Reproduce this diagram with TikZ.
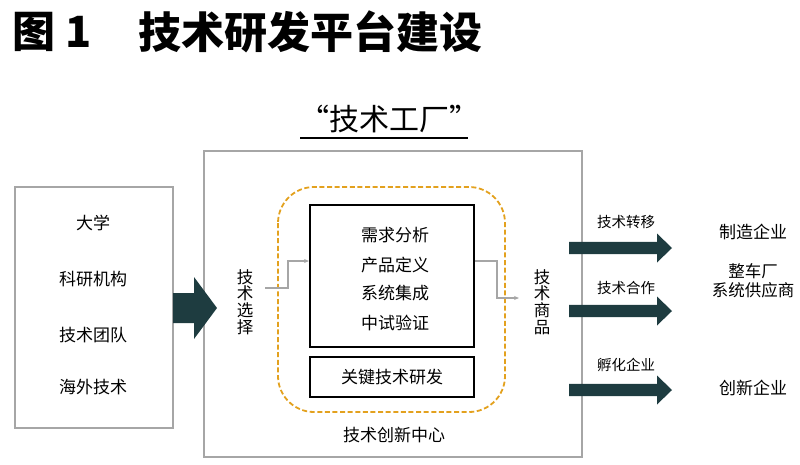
\documentclass[tikz,border=0pt]{standalone}
\usepackage{fontspec}
\setmainfont{Noto Sans CJK SC}
\usepackage{xcolor}
\usetikzlibrary{arrows.meta, positioning}

\definecolor{darkteal}{HTML}{1E3C40}
\definecolor{dashorange}{HTML}{E3A11E}
\definecolor{framegray}{HTML}{A6A6A6}

% filled block arrow: x start, x tip, y centre, shaft half, head half, head length
\newcommand{\fatarrow}[6]{%
  \fill[darkteal] (#1,#3-#4) -- (#2-#6,#3-#4) -- (#2-#6,#3-#5) -- (#2,#3)
    -- (#2-#6,#3+#5) -- (#2-#6,#3+#4) -- (#1,#3+#4) -- cycle;}

\begin{document}
\begin{tikzpicture}[
  x=1pt, y=-1pt,
  >={Stealth[length=5pt, width=4pt]},
  lbl/.style={inner sep=0pt, font=\fontsize{17}{20}\selectfont},
  small/.style={inner sep=0pt, font=\fontsize{14.5}{17}\selectfont},
  vert/.style={inner sep=0pt, align=center, font=\fontsize{16.5}{16.8}\selectfont},
  frame/.style={draw=framegray, line width=1.4pt},
  stagebox/.style={draw, line width=2pt},
  thinarr/.style={->, framegray, line width=1.3pt},
]
\useasboundingbox (0,0) rectangle (800,464);
% title
\node[anchor=west, inner sep=0pt, font=\fontsize{43}{46}\bfseries] (fig) at (12,32) {图 1};
\node[anchor=west, inner sep=0pt, font=\fontsize{43}{46}\bfseries] (title) at (138,32) {技术研发平台建设};
% factory heading
\node[inner sep=0pt, font=\fontsize{30}{34}\selectfont] (factory) at (389,119) {“技术工厂”};
\draw[line width=1.8pt] (300,138) -- (468,138);
% frames
\draw[frame] (204,151) rectangle (582,457);
\draw[frame] (15,187) rectangle (173,428);
% sources
\node[lbl] (univ) at (93,223) {大学};
\node[lbl] (inst) at (93,279) {科研机构};
\node[lbl] (team) at (93,335) {技术团队};
\node[lbl] (abroad) at (93,387) {海外技术};
\fatarrow{173}{217}{308}{15}{31}{23}
% innovation centre
\draw[dashorange, dashed, dash pattern=on 5pt off 2.6pt, line width=1.8pt,
      rounded corners=36pt] (278,187) rectangle (505,412);
\node[stagebox, minimum width=164pt, minimum height=142pt] (proc) at (392,276) {};
\node[stagebox, minimum width=164pt, minimum height=40pt] (key) at (392,377) {};
\node[lbl] (need) at (395,235) {需求分析};
\node[lbl] (prod) at (395,265) {产品定义};
\node[lbl] (integ) at (395,293) {系统集成};
\node[lbl] (pilot) at (395,323) {中试验证};
\node[lbl] (keytech) at (key) {关键技术研发};
\node[lbl] (centre) at (394,435) {技术创新中心};
% selection and products
\node[vert] (select) at (245,302) {技\\术\\选\\择};
\node[vert] (goods) at (542,302) {技\\术\\商\\品};
\coordinate (selout) at (265,288);
\coordinate (goodsin) at (519,298);
\draw[thinarr] (selout) -- ++(23,0) |- ([yshift=15pt]proc.west);
\draw[thinarr] ([yshift=15pt]proc.east) -- ++(22,0) |- (goodsin);
% outputs
\fatarrow{569}{672}{248}{6.2}{14.5}{15}
\fatarrow{569}{672}{311}{6.2}{14.5}{15}
\fatarrow{569}{672}{390}{6.2}{14.5}{15}
\node[small] (transfer) at (626,222) {技术转移};
\node[small] (coop) at (626,288) {技术合作};
\node[small] (incub) at (626,365) {孵化企业};
\node[lbl] (maker) at (753,232) {制造企业};
\node[lbl, align=center, font=\fontsize{16.5}{19}\selectfont] (oem) at (753,281) {整车厂\\系统供应商};
\node[lbl] (startup) at (753,388) {创新企业};
\end{tikzpicture}
\end{document}
